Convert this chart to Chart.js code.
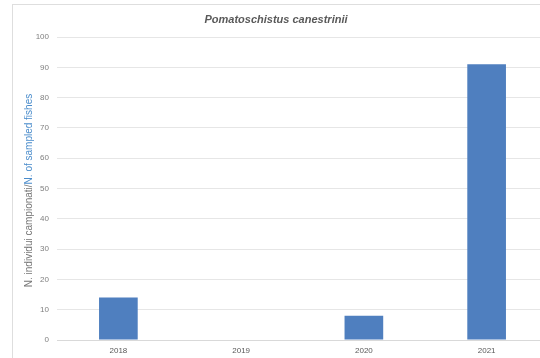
<!DOCTYPE html>
<html>
<head>
<meta charset="utf-8">
<script src="https://cdn.jsdelivr.net/npm/chart.js@4"></script>
<style>
    html, body { margin: 0; padding: 0; background: #fff; overflow: hidden; }
    body { width: 540px; height: 358px; position: relative; }
    #moldura { position: absolute; left: 12px; top: 4px; width: 600px; height: 400px; border: 1px solid #dedede; }
    #caixa { position: absolute; left: 0; top: 0; width: 560px; height: 358px; }
</style>
</head>
<body>
<div id="moldura"></div>
<div id="caixa"><canvas id="grafico" width="560" height="358"></canvas></div>
<script>
// dados
const anos = ['2018', '2019', '2020', '2021'];
const individui = [14, 0, 8, 91];
const tituloGrafico = 'Pomatoschistus canestrinii';
const tituloY1 = 'N. individui campionati/';
const tituloY2 = 'N. of sampled fishes';

const fonte = "'Liberation Sans', Arial, sans-serif";

// titulo e eixo Y desenhados a mao (duas cores no titulo do eixo)
const textosExtras = {
    id: 'textosExtras',
    afterDraw(chart) {
        const ctx = chart.ctx;
        const area = chart.chartArea;
        ctx.save();
        ctx.font = 'italic bold 11px ' + fonte;
        ctx.fillStyle = '#595959';
        ctx.textAlign = 'center';
        ctx.textBaseline = 'middle';
        ctx.fillText(tituloGrafico, 276, 20);

        ctx.font = '10px ' + fonte;
        const w1 = ctx.measureText(tituloY1).width;
        const w2 = ctx.measureText(tituloY2).width;
        ctx.translate(29, (area.top + area.bottom) / 2 + 2);
        ctx.rotate(-Math.PI / 2);
        ctx.textAlign = 'left';
        let x = -(w1 + w2) / 2;
        ctx.fillStyle = '#767676';
        ctx.fillText(tituloY1, x, 0);
        ctx.fillStyle = '#4a8ccb';
        ctx.fillText(tituloY2, x + w1, 0);
        ctx.restore();
    }
};

const ctx = document.getElementById('grafico').getContext('2d');
new Chart(ctx, {
    type: 'bar',
    data: {
        labels: anos,
        datasets: [{
            data: individui,
            backgroundColor: '#4f7fbf',
            borderWidth: 0,
            barPercentage: 0.315,
            categoryPercentage: 1
        }]
    },
    options: {
        responsive: false,
        animation: false,
        maintainAspectRatio: false,
        layout: { padding: { top: 37, right: 12, left: 0, bottom: 0 } },
        plugins: {
            legend: { display: false },
            title: { display: false },
            tooltip: { enabled: false }
        },
        scales: {
            x: {
                grid: { display: false, drawTicks: false },
                border: { color: '#d9d9d9' },
                ticks: { color: '#595959', font: { family: fonte, size: 8 }, padding: 6 },
                afterFit(scale) { scale.height = 18; }
            },
            y: {
                min: 0,
                max: 100,
                ticks: { stepSize: 10, autoSkip: false, color: '#7f7f7f', font: { family: fonte, size: 8 }, padding: 8 },
                grid: { color: '#e6e6e6', drawTicks: false },
                border: { display: false },
                afterFit(scale) { scale.width = 57; }
            }
        }
    },
    plugins: [textosExtras]
});
</script>
</body>
</html>
